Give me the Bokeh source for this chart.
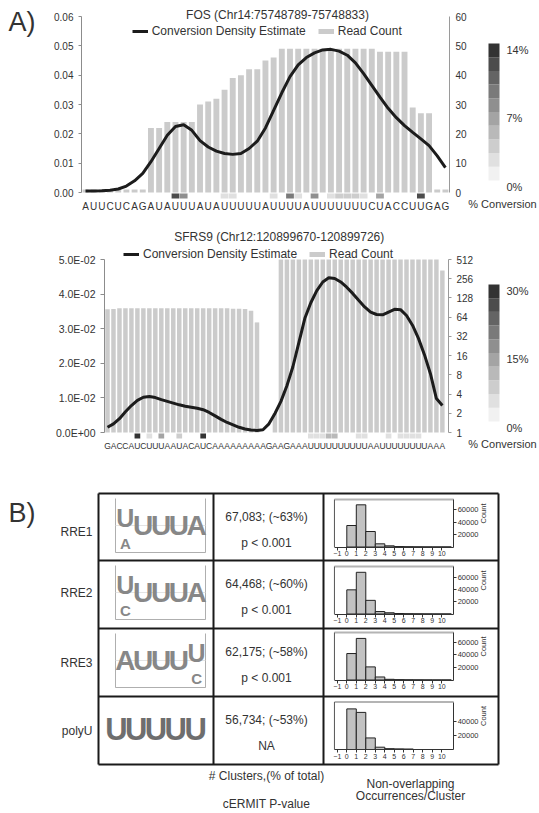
import numpy as np
from bokeh.plotting import figure
from bokeh.models import (Range1d, LinearAxis, FixedTicker, NumeralTickFormatter,
                          Legend, LegendItem, ColumnDataSource)
from bokeh.layouts import column
from bokeh.embed import file_html
from bokeh.resources import INLINE
from bokeh.core.properties import value
from bokeh.transform import linear_cmap

# ====================== DATA ======================
fos_title = "FOS (Chr14:75748789-75748833)"
fos_seq = list("AUUCUCAGAUAUUUAUAUUUUUAUUUUAUUUUUUUCUACCUUGAG")
fos_reads = [1, 1, 1, 1, 1, 1, 1, 1,
             22, 22, 24, 24, 24, 24,
             30, 31, 32, 35, 39, 40, 42, 42, 45, 46,
             49, 49, 49, 49, 49, 49, 49, 49, 49, 49, 49, 49,
             48, 48, 48, 48,
             29, 27, 27,
             1, 1]
fos_density = [0.0005, 0.0005, 0.0006, 0.0008, 0.0012, 0.0022, 0.0040, 0.0065, 0.0105, 0.0150,
               0.0195, 0.0225, 0.0231, 0.0212, 0.0177, 0.0155, 0.0141, 0.0133, 0.0130, 0.0133,
               0.0150, 0.0175, 0.0220, 0.0280, 0.0340, 0.0395, 0.0435, 0.0460, 0.0476, 0.0486,
               0.0488, 0.0482, 0.0468, 0.0442, 0.0405, 0.0365, 0.0325, 0.0287, 0.0255, 0.0228,
               0.0205, 0.0183, 0.0160, 0.0125, 0.0085]
fos_conv_pos = [11, 12, 17, 18, 23, 25, 26, 28, 30, 31, 32, 33, 34, 36, 41]
fos_conv_pct = [12.0, 7.5, 2.0, 2.0, 2.5, 9.0, 2.0, 7.5, 1.5, 3.5, 3.5, 3.5, 2.5, 6.0, 12.5]
fos_left_ticks = [0.0, 0.01, 0.02, 0.03, 0.04, 0.05, 0.06]
fos_right_ticks = [0, 10, 20, 30, 40, 50, 60]
fos_cb_ticks = [0, 7, 14]
fos_cb_labels = ["0%", "7%", "14%"]

sfrs_title = "SFRS9 (Chr12:120899670-120899726)"
sfrs_seq = list("GACCAUCUUUAAUACAUCAAAAAAAAAGAAGAAAUUUUUUUUUUAAUUUUUUUUAAA")
sfrs_reads = [85, 86, 88, 88, 88, 88, 88, 88, 88, 88, 88, 88, 88, 88, 88, 88, 88, 88, 88, 88,
              88, 87, 87, 86, 81, 53, 1, 1, 2,
              512, 512, 512, 512, 512, 512, 512, 512, 512, 512, 512, 512, 512, 512, 512,
              512, 512, 512, 512, 512, 512, 512, 512, 512, 512, 512, 512, 345]
sfrs_density = [0.0015, 0.0025, 0.0040, 0.0060, 0.0078, 0.0093, 0.0102, 0.0104, 0.0101, 0.0095,
                0.0090, 0.0085, 0.0080, 0.0076, 0.0073, 0.0070, 0.0066, 0.0058, 0.0048, 0.0038,
                0.0029, 0.0022, 0.0015, 0.0010, 0.0007, 0.0006, 0.0008, 0.0025, 0.0055, 0.0090,
                0.0135, 0.0190, 0.0260, 0.0330, 0.0375, 0.0410, 0.0435, 0.0447, 0.0445, 0.0435,
                0.0420, 0.0402, 0.0382, 0.0363, 0.0348, 0.0341, 0.0340, 0.0348, 0.0356, 0.0355,
                0.0338, 0.0310, 0.0272, 0.0225, 0.0170, 0.0098, 0.0078]
sfrs_conv_pos = [5, 7, 9, 12, 16, 34, 35, 36, 37, 38, 42, 43, 47, 49, 50, 51, 52]
sfrs_conv_pct = [28, 4, 14, 7, 28, 5, 5, 5, 11, 11, 5, 5, 4, 4, 4, 4, 4]
sfrs_left_ticks = [0.0, 0.01, 0.02, 0.03, 0.04, 0.05]
sfrs_left_labels = ["0.0E+00", "1.0E-02", "2.0E-02", "3.0E-02", "4.0E-02", "5.0E-02"]
sfrs_right_ticks = [0, 1, 2, 3, 4, 5, 6, 7, 8, 9]
sfrs_right_labels = ["1", "2", "4", "8", "16", "32", "64", "128", "256", "512"]
sfrs_cb_ticks = [0, 15, 30]
sfrs_cb_labels = ["0%", "15%", "30%"]

motif_names = ["RRE1", "RRE2", "RRE3", "polyU"]
cluster_text = ["67,083; (~63%)", "64,468; (~60%)", "62,175; (~58%)", "56,734; (~53%)"]
pvalue_text = ["p < 0.001", "p < 0.001", "p < 0.001", "NA"]
logo_main = [["U", "U", "U", "U", "A"],
             ["U", "U", "U", "U", "A"],
             ["A", "U", "U", "U", "U"],
             ["U", "U", "U", "U", "U"]]
logo_minor = [["A", "", "", "", ""],
              ["C", "", "", "", ""],
              ["", "", "", "", "C"],
              ["", "", "", "", ""]]
hist_bins = [0, 1, 2, 3, 4, 5, 6, 7, 8, 9, 10]
hist_counts = [[34400, 67500, 24800, 5100, 1900, 700, 400, 250, 150, 80, 100],
               [39300, 67800, 22200, 4000, 2000, 800, 400, 250, 150, 80, 100],
               [42000, 66000, 20800, 4800, 1100, 500, 300, 200, 100, 50, 50],
               [58000, 53000, 16500, 3300, 1200, 900, 700, 0, 0, 0, 0]]
hist_x_ticks = [-1, 0, 1, 2, 3, 4, 5, 6, 7, 8, 9, 10]
hist_y_ticks = [[20000, 40000, 60000], [20000, 40000, 60000],
                [20000, 40000, 60000], [20000, 40000]]

# ====================== STYLE / LAYOUT ======================
FONT = "Liberation Sans"
TXT = "#333333"
BAR = "#cbcbcb"
GRAYS = ["#f1f1f1", "#e0e0e0", "#cdcdcd", "#b9b9b9", "#a4a4a4",
         "#8f8f8f", "#7a7a7a", "#646464", "#4c4c4c", "#333333"]
W = 539
X0, X1 = 0, 539


def lin(p, v0, p0, v1, p1):
    return v0 + (p - p0) * (v1 - v0) / (p1 - p0)


def rng(v0, p0, v1, p1, plo, phi):
    return Range1d(start=lin(plo, v0, p0, v1, p1), end=lin(phi, v0, p0, v1, p1))


def base_fig(top, bot, xr, yr):
    p = figure(width=W, height=bot - top, x_range=xr, y_range=yr,
               output_backend="svg", toolbar_location=None,
               x_axis_location=None, y_axis_location=None, min_border=0,
               outline_line_color=None, background_fill_color="white",
               border_fill_color="white")
    p.grid.visible = False
    return p


def txt(p, x, y, text, size, align="center", baseline="middle", color=TXT,
        font=FONT, style="normal", xr="px", yr="py"):
    p.text(x=x, y=y, text=text, x_range_name=xr, y_range_name=yr,
           text_font=value(font), text_font_size=value(size), text_align=align,
           text_baseline=baseline, text_color=color, text_font_style=style)


def style_axis(ax, size, line_color="#8c8c8c", tick_out=3, standoff=4):
    ax.axis_line_color = line_color
    ax.major_tick_line_color = line_color
    ax.major_tick_out = tick_out
    ax.major_tick_in = 0
    ax.minor_tick_line_color = None
    ax.major_label_text_font = FONT
    ax.major_label_text_font_size = size
    ax.major_label_text_color = TXT
    ax.major_label_standoff = standoff


def panel_a(top, bot, g, title, seq, reads_plot, density, conv_pos, conv_pct,
            left_ticks, left_labels, right_ticks, right_labels, cb_ticks, cb_labels):
    n = len(seq)
    idx = list(range(n))
    xv = lambda px: lin(px, 0, g["x0"], 1, g["x0"] + g["dx"])
    yv = lambda px: lin(px, 0, g["zero"], g["vtop"], g["vtop_px"])
    xr = rng(0, g["x0"], 1, g["x0"] + g["dx"], X0, X1)
    yr = rng(0, g["zero"], g["vtop"], g["vtop_px"], bot, top)
    p = base_fig(top, bot, xr, yr)
    p.extra_x_ranges = {"px": Range1d(X0, X1)}
    p.extra_y_ranges = {
        "reads": rng(0, g["zero"], g["rtop"], g["vtop_px"], bot, top),
        "cb": rng(0, g["cb_lo"], g["cb_max"], g["cb_hi"], bot, top),
        "py": Range1d(bot, top)}

    src = ColumnDataSource(dict(i=idx, reads=reads_plot, dens=density))
    p.vbar(x="i", top="reads", bottom=0, width=g["barw"], source=src,
           y_range_name="reads", fill_color=BAR, line_color=None)
    line_r = p.line(x="i", y="dens", source=src, line_width=3, line_color="#1c1c1c")

    csrc = ColumnDataSource(dict(i=conv_pos, pct=conv_pct))
    p.vbar(x="i", top=yv(g["sq"][0]), bottom=yv(g["sq"][1]), width=0.95, source=csrc,
           fill_color=linear_cmap("pct", GRAYS, 0, g["cb_max"]), line_color=None)

    # colour bar
    lv = np.linspace(0, g["cb_max"], len(GRAYS) + 1)
    p.quad(left=488, right=499, bottom=lv[:-1], top=lv[1:], fill_color=GRAYS,
           line_color=None, x_range_name="px", y_range_name="cb")
    txt(p, [506] * len(cb_ticks), cb_ticks, cb_labels, "11px", align="left",
        baseline="top", yr="cb")
    txt(p, [502], [g["conv_y"]], ["% Conversion"], "11px")

    # title
    txt(p, [g["title"][0]], [g["title"][1]], [title], "12px")

    # legend (read-count key drawn as a thick grey dash, like the original key)
    dummy = p.line(x=[np.nan], y=[np.nan], line_width=5, line_color=BAR)
    leg = Legend(items=[LegendItem(label=value("Conversion Density Estimate"), renderers=[line_r]),
                        LegendItem(label=value("Read Count"), renderers=[dummy])],
                 orientation="horizontal",
                 location=(g["legend"][0] - X0, bot - g["legend"][1] - 7),
                 glyph_width=16, glyph_height=14, label_height=14, label_standoff=4,
                 spacing=12, padding=0, margin=0, border_line_color=None,
                 background_fill_alpha=0, label_text_font=FONT,
                 label_text_font_size="12px", label_text_color=TXT)
    p.add_layout(leg)

    # axes
    la = LinearAxis(fixed_location=xv(g["axl"]), bounds=(left_ticks[0], left_ticks[-1]),
                    ticker=FixedTicker(ticks=left_ticks))
    if left_labels is None:
        la.formatter = NumeralTickFormatter(format="0.00")
    else:
        la.major_label_overrides = dict(zip(left_ticks, left_labels))
    style_axis(la, g["lsize"], "#8c8c8c", g["ltick"], g["lstand"])
    p.add_layout(la, "left")

    ra = LinearAxis(y_range_name="reads", fixed_location=xv(g["axr"]),
                    bounds=(right_ticks[0], right_ticks[-1]),
                    ticker=FixedTicker(ticks=right_ticks))
    if right_labels is not None:
        ra.major_label_overrides = dict(zip(right_ticks, right_labels))
    style_axis(ra, "10px", "#9a9a9a", g["rtick"], g["rstand"])
    p.add_layout(ra, "right")

    ba = LinearAxis(fixed_location=yv(g["sq"][1]), ticker=FixedTicker(ticks=idx),
                    major_label_overrides={i: s for i, s in enumerate(seq)})
    style_axis(ba, g["letter_size"], None, 0, 2)
    ba.major_tick_line_color = None
    p.add_layout(ba, "below")
    return p


# ---------------- Panel A1: FOS ----------------
g1 = dict(x0=85, dx=8.18, zero=192, vtop=0.06, vtop_px=16, rtop=60, barw=0.72,
          sq=(193, 198), cb_lo=180, cb_hi=43, cb_max=14, conv_y=203,
          title=(277, 14), legend=(131.7, 30.5), axl=81, axr=449,
          lsize="10px", ltick=3, lstand=5, rtick=0, rstand=6, letter_size="10px")
p1 = panel_a(0, 213, g1, fos_title, fos_seq, fos_reads, fos_density,
             fos_conv_pos, fos_conv_pct, fos_left_ticks, None,
             fos_right_ticks, None, fos_cb_ticks, fos_cb_labels)
txt(p1, [8], [21], ["A)"], "27px", align="left")

# ---------------- Panel A2: SFRS9 ----------------
g2 = dict(x0=107, dx=5.98, zero=432, vtop=0.05, vtop_px=259, rtop=9, barw=0.75,
          sq=(433, 438), cb_lo=421, cb_hi=284, cb_max=30, conv_y=443,
          title=(278.7, 236.7), legend=(123, 254), axl=104, axr=448,
          lsize="10.5px", ltick=4, lstand=5, rtick=3, rstand=5, letter_size="8.5px")
p2 = panel_a(213, 452, g2, sfrs_title, sfrs_seq, list(np.log2(sfrs_reads)), sfrs_density,
             sfrs_conv_pos, sfrs_conv_pct, sfrs_left_ticks, sfrs_left_labels,
             sfrs_right_ticks, sfrs_right_labels, sfrs_cb_ticks, sfrs_cb_labels)

# ---------------- Panel B: table ----------------
TB, BB = 452, 813
p3 = base_fig(TB, BB, Range1d(X0, X1), Range1d(BB, TB))

col_x = [98, 213, 323, 498]
row_y = [493, 560, 628, 696, 764]
p3.segment(x0=[col_x[0]] * len(row_y) + col_x, y0=row_y + [row_y[0]] * len(col_x),
           x1=[col_x[-1]] * len(row_y) + col_x, y1=row_y + [row_y[-1]] * len(col_x),
           line_color="#1a1a1a", line_width=2)

p3.text(x=[8], y=[512], text=["B)"], text_font=value(FONT), text_font_size=value("27px"),
        text_align="left", text_baseline="middle", text_color=TXT)

row_label_y = [531, 592, 662, 730]
p3.text(x=[92] * 4, y=row_label_y, text=motif_names, text_font=value(FONT),
        text_font_size=value("12px"), text_align="right", text_baseline="middle",
        text_color=TXT)

row_top = row_y[:-1]
p3.text(x=[266] * 4, y=[t + 23.5 for t in row_top], text=cluster_text, text_font=value(FONT),
        text_font_size=value("12px"), text_align="center", text_baseline="middle",
        text_color=TXT)
p3.text(x=[266] * 4, y=[t + 49 for t in row_top], text=pvalue_text, text_font=value(FONT),
        text_font_size=value("12px"), text_align="center", text_baseline="middle",
        text_color=TXT)

# sequence logos
for r in range(4):
    t = row_top[r]
    if r < 3:
        bx0, bx1, by0, by1 = 115, 205, t + 5, t + 59
        p3.line(x=[bx0, bx0, bx1, bx1], y=[by0, by1, by1, by0], line_color="#9a9a9a",
                line_width=0.8)
        p3.line(x=[bx0, bx1], y=[(by0 + by1) / 2, (by0 + by1) / 2], line_color="#dddddd",
                line_width=0.8)
        cx = [bx0 + 1 + 17.8 * (j + 0.5) for j in range(5)]
        main_y = [t + 24 if logo_minor[r][j] else t + 32 for j in range(5)]
        main_sz = ["25px" if logo_minor[r][j] else "28px" for j in range(5)]
        p3.text(x=cx, y=main_y, text=logo_main[r], text_font=value(FONT),
                text_font_size=main_sz, text_font_style="bold", text_align="center",
                text_baseline="middle", text_color="#878787")
        p3.text(x=cx, y=[t + 50] * 5, text=logo_minor[r], text_font=value(FONT),
                text_font_size=value("15px"), text_font_style="bold", text_align="center",
                text_baseline="middle", text_color="#878787")
    else:
        cx = [106 + 19.8 * (j + 0.5) for j in range(5)]
        p3.text(x=cx, y=[t + 33] * 5, text=logo_main[r], text_font=value(FONT),
                text_font_size=value("31px"), text_font_style="bold", text_align="center",
                text_baseline="middle", text_color="#6e6e6e")

# histograms
hist_zero_px = [546.5, 613.5, 679.5, 749]
hist_px20k = [12.5, 12.3, 12.6, 14.0]
HXL, HXR = -1.3, 11.25
yr_extra = {"py": Range1d(BB, TB)}
for k in range(4):
    z, s = hist_zero_px[k], hist_px20k[k]
    yr_extra[f"hy{k}"] = rng(0, z, 20000, z - s, BB, TB)
p3.extra_y_ranges = yr_extra
p3.extra_x_ranges = {"px": Range1d(X0, X1), "hx": rng(0, 346.3, 10, 441.3, X0, X1)}

for k in range(4):
    z, s = hist_zero_px[k], hist_px20k[k]
    yn = f"hy{k}"
    ymax = lin(z - 47.5, 0, z, 20000, z - s)
    p3.quad(left=hist_bins, right=[b + 1 for b in hist_bins], bottom=0, top=hist_counts[k],
            x_range_name="hx", y_range_name=yn, fill_color="#c2c2c2",
            line_color="#222222", line_width=1)
    p3.segment(x0=[HXL, HXL], y0=[ymax, 0], x1=[HXR, HXL], y1=[ymax, ymax],
               x_range_name="hx", y_range_name=yn, line_color=["#b4b4b4", "#555555"],
               line_width=[2, 1])
    bax = LinearAxis(x_range_name="hx", y_range_name=yn, fixed_location=0,
                     bounds=(HXL, HXR), ticker=FixedTicker(ticks=hist_x_ticks))
    style_axis(bax, "7px", "#333333", 3, 1)
    p3.add_layout(bax, "below")
    rax = LinearAxis(x_range_name="hx", y_range_name=yn, fixed_location=HXR,
                     bounds=(0, ymax), ticker=FixedTicker(ticks=hist_y_ticks[k]),
                     axis_label="Count")
    style_axis(rax, "7.5px", "#333333", 3, 1)
    rax.axis_label_text_font = FONT
    rax.axis_label_text_font_size = "7.5px"
    rax.axis_label_text_font_style = "normal"
    rax.axis_label_text_color = TXT
    rax.axis_label_standoff = 2
    rax.axis_label_orientation = float(np.pi / 2)
    p3.add_layout(rax, "right")

# footers
p3.text(x=[266, 266, 410, 410], y=[775, 803, 783, 795],
        text=["# Clusters,(% of total)", "cERMIT P-value", "Non-overlapping",
              "Occurrences/Cluster"],
        text_font=value(FONT), text_font_size=value("12px"), text_align="center",
        text_baseline="middle", text_color=TXT)

layout = column(p1, p2, p3)
open("out.html", "w").write(file_html(layout, INLINE, "Figure"))
